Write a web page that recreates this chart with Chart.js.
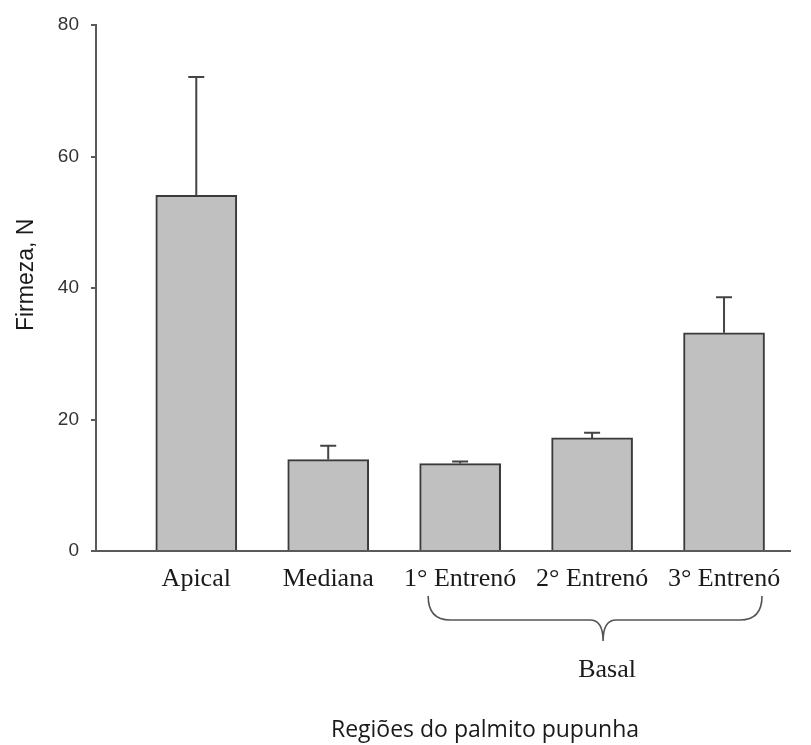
<!DOCTYPE html>
<html>
<head>
<meta charset="utf-8">
<script src="https://cdn.jsdelivr.net/npm/chart.js@4.4.1/dist/chart.umd.min.js"></script>
<style>
  html, body { margin: 0; padding: 0; background: #ffffff; }
  #wrap { width: 811px; height: 745px; }
</style>
</head>
<body>
<div id="wrap"><canvas id="c" width="811" height="745"></canvas></div>
<script>
// Firmeza (N) por região do palmito pupunha, média e desvio
const categories = ['Apical', 'Mediana', '1° Entrenó', '2° Entrenó', '3° Entrenó'];
const firmeza = [54.1, 13.9, 13.3, 17.2, 33.2];
const desvio = [18.0, 2.1, 0.3, 0.8, 5.4];
const yTicks = [0, 20, 40, 60, 80];
const grupoBasal = { label: 'Basal', from: 2, to: 4 };
const tituloX = 'Regiões do palmito pupunha';
const tituloY = 'Firmeza, N';

const points = categories.map((c, i) => ({ x: i, y: firmeza[i] }));

// error bars (upper whisker only)
const errorBars = {
  id: 'errorBars',
  afterDatasetsDraw(chart) {
    const { ctx, scales: { x, y } } = chart;
    ctx.save();
    ctx.strokeStyle = '#444';
    ctx.lineWidth = 2;
    firmeza.forEach((v, i) => {
      const px = x.getPixelForValue(i);
      const top = y.getPixelForValue(v + desvio[i]);
      const base = y.getPixelForValue(v);
      ctx.beginPath();
      ctx.moveTo(px, base);
      ctx.lineTo(px, top);
      ctx.moveTo(px - 8, top);
      ctx.lineTo(px + 8, top);
      ctx.stroke();
    });
    ctx.restore();
  }
};

// curly brace grouping the basal internodes, plus the axis captions
const annotations = {
  id: 'annotations',
  afterDraw(chart) {
    const { ctx, scales: { x, y } } = chart;
    const y0 = y.getPixelForValue(0);
    const left = x.getPixelForValue(grupoBasal.from) - 32;
    const right = x.getPixelForValue(grupoBasal.to) + 38;
    const mid = x.getPixelForValue((grupoBasal.from + grupoBasal.to) / 2) + 11;
    const top = y0 + 45;
    const bar = y0 + 69;
    const tip = y0 + 90;
    const r = 22;
    ctx.save();
    ctx.strokeStyle = '#555';
    ctx.lineWidth = 1.6;
    ctx.beginPath();
    ctx.moveTo(left, top);
    ctx.quadraticCurveTo(left, bar, left + r, bar);
    ctx.lineTo(mid - r * 0.6, bar);
    ctx.quadraticCurveTo(mid, bar, mid, tip);
    ctx.quadraticCurveTo(mid, bar, mid + r * 0.6, bar);
    ctx.lineTo(right - r, bar);
    ctx.quadraticCurveTo(right, bar, right, top);
    ctx.stroke();

    ctx.fillStyle = '#1a1a1a';
    ctx.textAlign = 'center';
    ctx.textBaseline = 'middle';
    ctx.font = '26px "Liberation Serif", "Times New Roman", serif';
    ctx.fillText(grupoBasal.label, mid + 4, y0 + 119);

    ctx.font = '23px "Open Sans", sans-serif';
    ctx.fillText(tituloX, (x.left + x.right) / 2 + 42, y0 + 179);

    // vertical caption of the value axis
    ctx.translate(27, y.getPixelForValue(42));
    ctx.rotate(-Math.PI / 2);
    ctx.font = '23px "Liberation Sans", Arial, sans-serif';
    ctx.fillText(tituloY, 0, 0);
    ctx.restore();
  }
};

new Chart(document.getElementById('c'), {
  type: 'bar',
  data: {
    datasets: [{
      data: points,
      backgroundColor: '#c0c0c0',
      borderColor: '#3a3a3a',
      borderWidth: 2,
      borderSkipped: 'bottom',
      barThickness: 81
    }]
  },
  options: {
    responsive: false,
    animation: false,
    layout: { padding: { left: 12, top: 25, right: 21, bottom: 0 } },
    plugins: { legend: { display: false }, tooltip: { enabled: false } },
    scales: {
      x: {
        type: 'linear',
        offset: false,
        min: -0.76,
        max: 4.5,
        afterBuildTicks(scale) { scale.ticks = categories.map((c, i) => ({ value: i })); },
        afterFit(scale) { scale.height = 194; },
        grid: { display: false, drawTicks: false },
        border: { display: true, color: '#5a5a5a', width: 2 },
        ticks: {
          autoSkip: false,
          maxRotation: 0,
          padding: 13,
          color: '#1a1a1a',
          font: { family: '"Liberation Serif", "Times New Roman", serif', size: 26 },
          callback: (v) => categories[v]
        }
      },
      y: {
        min: 0,
        max: 80,
        afterBuildTicks(scale) { scale.ticks = yTicks.map(v => ({ value: v })); },
        afterFit(scale) { scale.width = 84; },
        grid: { drawOnChartArea: false, drawTicks: true, tickLength: 5, color: '#5a5a5a', lineWidth: 2 },
        border: { display: true, color: '#5a5a5a', width: 2 },
        ticks: {
          padding: 12,
          color: '#333',
          font: { family: '"Liberation Sans", Arial, sans-serif', size: 19 }
        }
      }
    }
  },
  plugins: [errorBars, annotations]
});
</script>
</body>
</html>
